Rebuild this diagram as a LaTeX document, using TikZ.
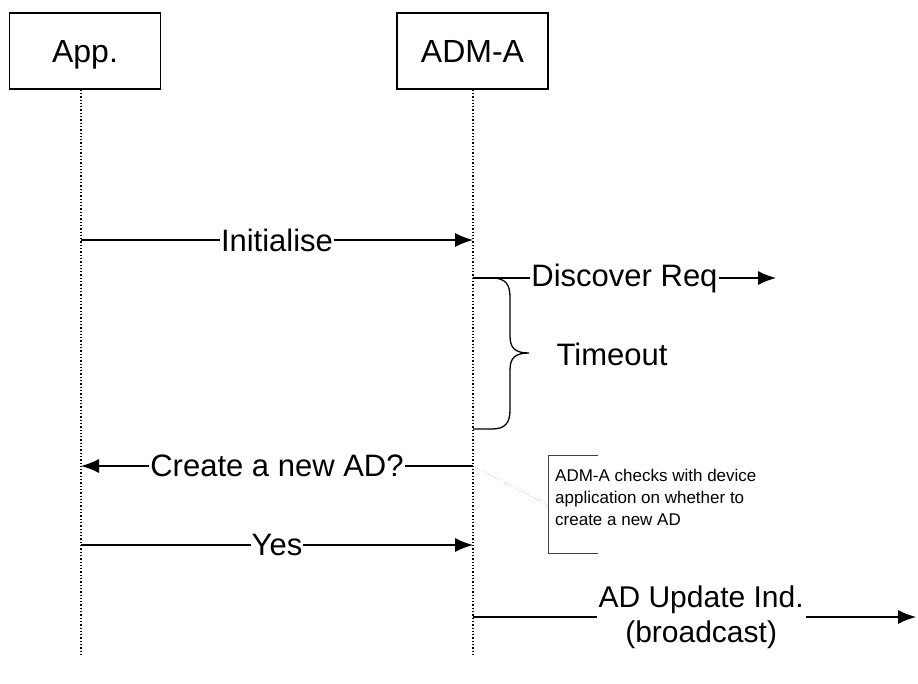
\documentclass[tikz,border=0pt]{standalone}
\usepackage{fontspec}
\setmainfont{Liberation Sans}
\usetikzlibrary{arrows.meta,positioning}

\begin{document}
\begin{tikzpicture}[x=1pt,y=-1pt,
  entity/.style={draw,line width=1.3pt,minimum width=151pt,minimum height=76pt,inner sep=0pt,
    text height=23pt,text depth=0pt,font=\fontsize{32}{36}\selectfont},
  life/.style={line width=1.3pt,dotted},
  msg/.style={line width=1.3pt,-{Latex[length=18pt,width=14pt]}},
  lbl/.style={fill=white,inner sep=1pt,font=\fontsize{31}{36}\selectfont},
  notetext/.style={align=left,inner sep=0pt,font=\fontsize{17}{22}\selectfont}]
\useasboundingbox (0,0) rectangle (918,684);

% entities
\node[entity] (app) at (85,51) {App.};
\node[entity] (adm) at (472.5,51) {ADM-A};

% lifelines
\coordinate (append) at (81,655);
\coordinate (admend) at (473,655);
\draw[life] (app.south -| append) -- (append);
\draw[life] (adm.south -| admend) -- (admend);

% message points
\coordinate (a1) at (81,240);  \coordinate (m1) at (473,240);
\coordinate (m2) at (473,278); \coordinate (x2) at (776,278);
\coordinate (m3) at (473,429);
\coordinate (a4) at (81,466);  \coordinate (m4) at (473,466);
\coordinate (a5) at (81,545);  \coordinate (m5) at (473,545);
\coordinate (m6) at (473,617); \coordinate (x6) at (916,617);

\draw[msg] (a1) -- node[lbl] {Initialise} (m1);
\draw[msg] (m2) -- node[lbl] {Discover Req} (x2);
\draw[msg] (m4) -- node[lbl] {Create a new AD?} (a4);
\draw[msg] (a5) -- node[lbl] {Yes} (m5);
\draw[msg] (m6) -- node[lbl,align=center,pos=0.515,inner xsep=2pt,font=\fontsize{30}{35}\selectfont] {AD Update Ind.\\(broadcast)} (x6);

% timeout brace
\draw[line width=1.3pt] (m2) -- (492,278) .. controls (505,278) and (510,284) .. (510,297)
  -- (510,336) .. controls (510,348) and (515,353) .. (529,353)
  .. controls (515,353) and (510,358) .. (510,370)
  -- (510,410) .. controls (510,423) and (505,429) .. (492,429) -- (m3);
\node[lbl,fill=none] (timeout) at (612,354) {Timeout};

% note
\node[notetext,anchor=west] (note) at (555,497) {ADM-A checks with device\\application on whether to\\create a new AD};
\coordinate (ntop) at (598,455);
\coordinate (nbot) at (598,553);
\draw[line width=0.8pt,black!75] (ntop) -- (548,455) -- (548,553) -- (nbot);
\draw[line width=0.5pt,gray,dotted] (m4) -- (548,505);

\end{tikzpicture}
\end{document}
